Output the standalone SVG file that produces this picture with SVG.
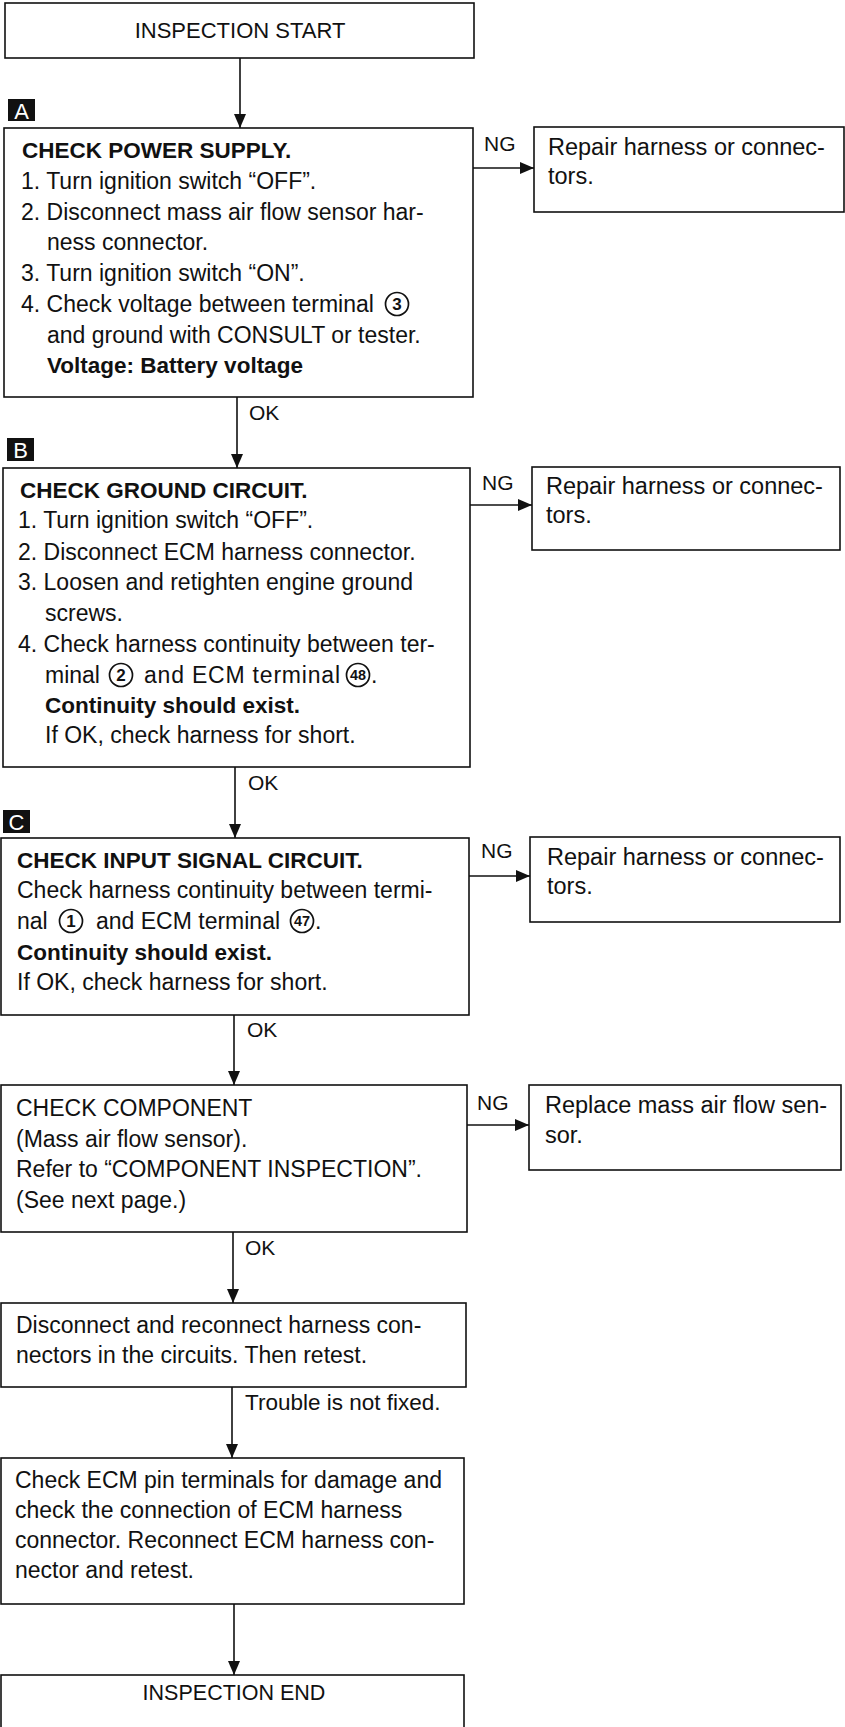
<svg xmlns="http://www.w3.org/2000/svg" width="845" height="1727" viewBox="0 0 845 1727">
<style>
text{font-family:"Liberation Sans",Arial,Helvetica,sans-serif;fill:#111}
.box{fill:#fff;stroke:#111;stroke-width:1.6}
.t{font-size:23px}
.r{font-size:23.5px}
.b{font-weight:bold;font-size:22.5px}
.lbl{font-size:21px}
.ng{font-size:21px}
.line{stroke:#111;stroke-width:1.6;fill:none}
.tag{fill:#111}
.tagt{fill:#fff;font-size:22px}
.circ{fill:none;stroke:#111;stroke-width:1.7}
.cn{font-size:17px;font-weight:bold;text-anchor:middle}
.cn2{font-size:14px;font-weight:bold;text-anchor:middle}
</style>
<defs>
<marker id="ah" viewBox="0 0 14 12" refX="14" refY="6" markerWidth="14" markerHeight="12" markerUnits="userSpaceOnUse" orient="auto">
<path d="M0,0 L14,6 L0,12 Z" fill="#111"/>
</marker>
</defs>
<rect width="845" height="1727" fill="#fff"/>

<g id="connectors">
<line class="line" x1="240" y1="58" x2="240" y2="128" marker-end="url(#ah)"/>
<line class="line" x1="237" y1="397" x2="237" y2="468" marker-end="url(#ah)"/>
<line class="line" x1="235" y1="767" x2="235" y2="838" marker-end="url(#ah)"/>
<line class="line" x1="234" y1="1015" x2="234" y2="1085" marker-end="url(#ah)"/>
<line class="line" x1="233" y1="1232" x2="233" y2="1303" marker-end="url(#ah)"/>
<line class="line" x1="232" y1="1387" x2="232" y2="1458" marker-end="url(#ah)"/>
<line class="line" x1="234" y1="1604" x2="234" y2="1675" marker-end="url(#ah)"/>
<line class="line" x1="473" y1="168" x2="534" y2="168" marker-end="url(#ah)"/>
<line class="line" x1="470" y1="505" x2="532" y2="505" marker-end="url(#ah)"/>
<line class="line" x1="469" y1="876" x2="530" y2="876" marker-end="url(#ah)"/>
<line class="line" x1="467" y1="1125" x2="529" y2="1125" marker-end="url(#ah)"/>
<text class="lbl" x="249" y="420">OK</text>
<text class="lbl" x="248" y="790">OK</text>
<text class="lbl" x="247" y="1037">OK</text>
<text class="lbl" x="245" y="1255">OK</text>
<text class="t" x="245" y="1410" style="font-size:22.5px">Trouble is not fixed.</text>
<text class="ng" x="484" y="151">NG</text>
<text class="ng" x="482" y="490">NG</text>
<text class="ng" x="481" y="858">NG</text>
<text class="ng" x="477" y="1110">NG</text>
</g>

<g id="start">
<rect class="box" x="5" y="3" width="469" height="55"/>
<text x="240" y="38" text-anchor="middle" style="font-size:22px">INSPECTION START</text>
</g>

<g id="nodeA">
<rect class="tag" x="8" y="99" width="27" height="22"/>
<text class="tagt" x="21.5" y="118.5" text-anchor="middle">A</text>
<rect class="box" x="4" y="128" width="469" height="269"/>
<text class="b" x="22" y="158">CHECK POWER SUPPLY.</text>
<text class="t" x="21" y="189">1. Turn ignition switch “OFF”.</text>
<text class="t" x="21" y="220">2. Disconnect mass air flow sensor har-</text>
<text class="t" x="47" y="250">ness connector.</text>
<text class="t" x="21" y="281">3. Turn ignition switch “ON”.</text>
<text class="t" x="21" y="312">4. Check voltage between terminal</text>
<circle class="circ" cx="397" cy="304" r="11.5"/>
<text class="cn" x="397" y="310">3</text>
<text class="t" x="47" y="343">and ground with CONSULT or tester.</text>
<text class="b" x="47" y="373">Voltage: Battery voltage</text>
</g>

<g id="ngA">
<rect class="box" x="534" y="127" width="310" height="85"/>
<text class="r" x="548" y="155">Repair harness or connec-</text>
<text class="r" x="548" y="184">tors.</text>
</g>

<g id="nodeB">
<rect class="tag" x="7" y="438" width="27" height="23"/>
<text class="tagt" x="20.5" y="458" text-anchor="middle">B</text>
<rect class="box" x="3" y="468" width="467" height="299"/>
<text class="b" x="20" y="498">CHECK GROUND CIRCUIT.</text>
<text class="t" x="18" y="528">1. Turn ignition switch “OFF”.</text>
<text class="t" x="18" y="560">2. Disconnect ECM harness connector.</text>
<text class="t" x="18" y="590">3. Loosen and retighten engine ground</text>
<text class="t" x="45" y="621">screws.</text>
<text class="t" x="18" y="652">4. Check harness continuity between ter-</text>
<text class="t" x="45" y="683">minal</text>
<circle class="circ" cx="121" cy="675" r="11.5"/>
<text class="cn" x="121" y="681">2</text>
<text class="t" x="144" y="683" textLength="196" lengthAdjust="spacing">and ECM terminal</text>
<circle class="circ" cx="358" cy="675" r="11.5"/>
<text class="cn2" x="358" y="680" textLength="16" lengthAdjust="spacingAndGlyphs">48</text>
<text class="t" x="371" y="683">.</text>
<text class="b" x="45" y="713">Continuity should exist.</text>
<text class="t" x="45" y="743">If OK, check harness for short.</text>
</g>

<g id="ngB">
<rect class="box" x="532" y="467" width="308" height="83"/>
<text class="r" x="546" y="494">Repair harness or connec-</text>
<text class="r" x="546" y="523">tors.</text>
</g>

<g id="nodeC">
<rect class="tag" x="3" y="810" width="27" height="23"/>
<text class="tagt" x="16.5" y="830" text-anchor="middle">C</text>
<rect class="box" x="1" y="838" width="468" height="177"/>
<text class="b" x="17" y="868">CHECK INPUT SIGNAL CIRCUIT.</text>
<text class="t" x="17" y="898">Check harness continuity between termi-</text>
<text class="t" x="17" y="929">nal</text>
<circle class="circ" cx="71" cy="921" r="11.5"/>
<text class="cn" x="71" y="927">1</text>
<text class="t" x="96" y="929">and ECM terminal</text>
<circle class="circ" cx="302" cy="921" r="11.5"/>
<text class="cn2" x="302" y="926" textLength="16" lengthAdjust="spacingAndGlyphs">47</text>
<text class="t" x="315" y="929">.</text>
<text class="b" x="17" y="960">Continuity should exist.</text>
<text class="t" x="17" y="990">If OK, check harness for short.</text>
</g>

<g id="ngC">
<rect class="box" x="530" y="837" width="310" height="85"/>
<text class="r" x="547" y="865">Repair harness or connec-</text>
<text class="r" x="547" y="894">tors.</text>
</g>

<g id="nodeD">
<rect class="box" x="1" y="1085" width="466" height="147"/>
<text class="t" x="16" y="1116">CHECK COMPONENT</text>
<text class="t" x="16" y="1147">(Mass air flow sensor).</text>
<text class="t" x="16" y="1177">Refer to “COMPONENT INSPECTION”.</text>
<text class="t" x="16" y="1208">(See next page.)</text>
</g>

<g id="ngD">
<rect class="box" x="529" y="1085" width="312" height="85"/>
<text class="r" x="545" y="1113">Replace mass air flow sen-</text>
<text class="r" x="545" y="1143">sor.</text>
</g>

<g id="nodeE">
<rect class="box" x="1" y="1303" width="465" height="84"/>
<text class="t" x="16" y="1333">Disconnect and reconnect harness con-</text>
<text class="t" x="16" y="1363">nectors in the circuits. Then retest.</text>
</g>

<g id="nodeF">
<rect class="box" x="1" y="1458" width="463" height="146"/>
<text class="t" x="15" y="1488">Check ECM pin terminals for damage and</text>
<text class="t" x="15" y="1518">check the connection of ECM harness</text>
<text class="t" x="15" y="1548">connector. Reconnect ECM harness con-</text>
<text class="t" x="15" y="1578">nector and retest.</text>
</g>

<g id="end">
<rect class="box" x="1" y="1675" width="463" height="70"/>
<text x="234" y="1700" text-anchor="middle" style="font-size:21.5px">INSPECTION END</text>
</g>
</svg>
